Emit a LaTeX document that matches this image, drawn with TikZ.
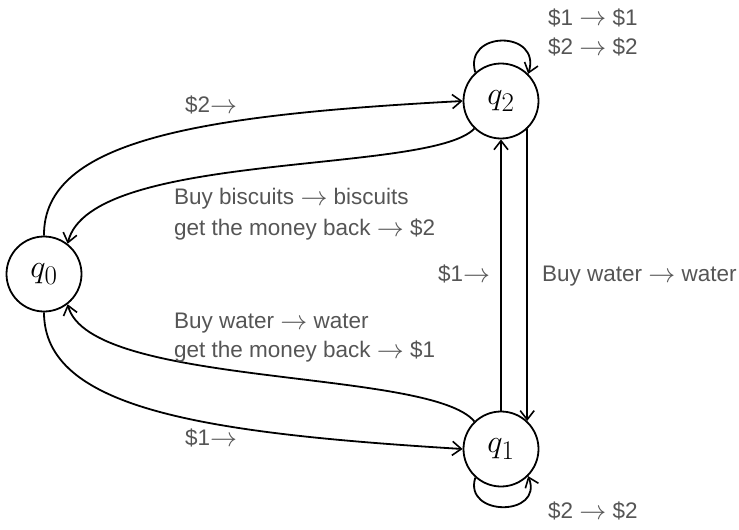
\documentclass[tikz,border=0pt]{standalone}
\usepackage{fontspec}
\setmainfont{Liberation Sans}
\usetikzlibrary{arrows.meta}
\definecolor{txt}{RGB}{85,85,85}
\newcommand{\arr}{\raisebox{-1pt}{\scalebox{1.3}{$\rightarrow$}}}
\newcommand{\ar}{ \arr{} }
\begin{document}
\begin{tikzpicture}[x=1pt,y=-1pt,
 state/.style={circle,draw,line width=1.8pt,minimum size=75pt,inner sep=0pt,font=\Huge},
 edge/.style={line width=1.8pt,-{Straight Barb[length=9pt,width=14pt,line width=1.6pt]}},
 lbl/.style={text=txt,font=\fontsize{22.5}{22.5}\selectfont,inner sep=0pt,anchor=base west}]
\useasboundingbox (0,0) rectangle (739,530);
\node[state] (q0) at (44,274) {\scalebox{1.3}{$q_0$}};
\node[state] (q2) at (501,101) {\scalebox{1.3}{$q_2$}};
\node[state] (q1) at (501,449) {\scalebox{1.3}{$q_1$}};
\draw[edge] (q0.north) .. controls (43,140) and (200,115) .. (q2.west);
\draw[edge] (q0.south) .. controls (44,408) and (200,433) .. (q1.west);
\draw[edge] (q2.226) .. controls (430,175) and (90,150) .. (q0.52);
\draw[edge] (q1.134) .. controls (430,368) and (90,388) .. (q0.-52);
\draw[edge] (q1.north) -- (q2.south);
\draw[edge] (q2.-47) -- (q1.47);
\draw[edge] (q2.132) .. controls (463,30) and (542,30) .. (q2.45);
\draw[edge] (q1.-132) .. controls (463,517) and (544,517) .. (q1.-45);
\node[lbl] (a) at (185,112) {\$2\arr};
\node[lbl] (b) at (185,445) {\$1\arr};
\node[lbl] (c) at (174,204) {Buy biscuits\ar biscuits};
\node[lbl] (d) at (174,235) {get the money back\ar\$2};
\node[lbl] (e) at (174,328) {Buy water\ar water};
\node[lbl] (f) at (174,357) {get the money back\ar\$1};
\node[lbl] (g) at (438,281) {\$1\arr};
\node[lbl] (h) at (542,281) {Buy water\ar water};
\node[lbl] (i) at (548,25) {\$1\ar\$1};
\node[lbl] (j) at (548,54) {\$2\ar\$2};
\node[lbl] (k) at (548,518) {\$2\ar\$2};
\end{tikzpicture}
\end{document}
